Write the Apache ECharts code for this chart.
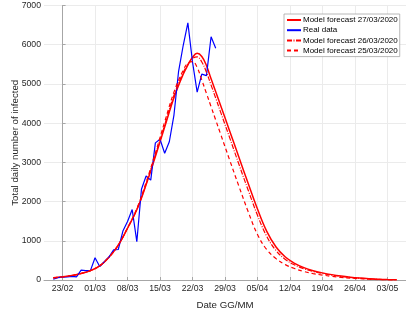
<!DOCTYPE html>
<html>
<head>
<meta charset="utf-8">
<script src="https://cdn.jsdelivr.net/npm/echarts@6/dist/echarts.min.js"></script>
<style>
html,body{margin:0;padding:0;background:#fff;}
#chart{width:406px;height:311px;}
</style>
</head>
<body>
<div id="chart"></div>
<script>
// Day index: 0 = 23/02/2020
const tickDays = [0, 7, 14, 21, 28, 35, 42, 49, 56, 63, 70];
const tickLabels = ['23/02', '01/03', '08/03', '15/03', '22/03', '29/03', '05/04', '12/04', '19/04', '26/04', '03/05'];

// Real data (daily new infected), days -2 .. 33
const realDays = [-2, -1, 0, 1, 2, 3, 4, 5, 6, 7, 8, 9, 10, 11, 12, 13, 14, 15, 16, 17, 18, 19, 20, 21, 22, 23, 24, 25, 26, 27, 28, 29, 30, 31, 32, 33];
const realValues = [20, 59, 73, 77, 93, 78, 250, 238, 240, 566, 342, 466, 587, 769, 778, 1247, 1492, 1797, 977, 2313, 2651, 2547, 3497, 3590, 3233, 3526, 4207, 5322, 5986, 6557, 5560, 4789, 5249, 5210, 6203, 5909];

// Model curves sampled at these days
const modelDays = [-2, 0, 2, 4, 6, 8, 10, 12, 14, 16, 18, 20, 22, 24, 26, 27, 28, 29, 30, 31, 32, 33, 34, 36, 38, 40, 42, 44, 46, 48, 50, 52, 54, 56, 58, 60, 62, 64, 66, 68, 70, 72];
const model2703 = [55, 80, 115, 165, 240, 360, 580, 890, 1320, 1790, 2430, 3150, 3900, 4650, 5250, 5480, 5680, 5780, 5700, 5470, 5130, 4800, 4470, 3800, 3130, 2460, 1810, 1240, 840, 585, 425, 315, 238, 182, 137, 101, 73, 51, 34, 21, 11, 4];
const model2603 = [55, 80, 115, 165, 240, 360, 580, 890, 1320, 1800, 2450, 3190, 3950, 4710, 5290, 5500, 5650, 5690, 5560, 5300, 4970, 4640, 4300, 3630, 2950, 2290, 1650, 1110, 750, 525, 385, 288, 217, 166, 124, 90, 64, 44, 29, 17, 8, 3];
const model2503 = [55, 80, 115, 165, 240, 360, 580, 890, 1330, 1820, 2490, 3240, 4030, 4790, 5350, 5530, 5570, 5420, 5100, 4760, 4420, 4080, 3740, 3060, 2390, 1740, 1160, 775, 545, 392, 292, 217, 164, 126, 93, 68, 48, 33, 21, 12, 6, 2];

const zip = (xs, ys) => xs.map((x, i) => [x, ys[i]]);
const RED = '#ff0000';
const BLUE = '#0000ff';
const FONT = 'Liberation Sans, Arial, sans-serif';

const chart = echarts.init(document.getElementById('chart'), null, {renderer: 'canvas'});
chart.setOption({
  animation: false,
  backgroundColor: '#ffffff',
  grid: {left: 44, right: 0, top: 5.5, bottom: 31, containLabel: false, outerBoundsMode: 'none'},
  xAxis: {
    type: 'value',
    min: -4,
    max: 74,
    name: 'Date GG/MM',
    nameLocation: 'middle',
    nameGap: 20,
    nameTextStyle: {fontFamily: FONT, fontSize: 9.7, color: '#262626'},
    axisLine: {show: true, lineStyle: {color: '#a6a6a6', width: 1}},
    axisTick: {show: true, inside: true, length: 3, customValues: tickDays, lineStyle: {color: '#a6a6a6'}},
    axisLabel: {
      customValues: tickDays,
      fontFamily: FONT, fontSize: 8.7, color: '#262626', margin: 4,
      formatter: v => { const i = tickDays.indexOf(v); return i >= 0 ? tickLabels[i] : ''; }
    },
    splitLine: {show: true, lineStyle: {color: '#ebebeb', width: 1}}
  },
  yAxis: {
    type: 'value',
    min: 0,
    max: 7000,
    interval: 1000,
    name: 'Total daily number of infected',
    nameLocation: 'middle',
    nameGap: 24,
    nameMoveOverlap: false,
    nameTextStyle: {fontFamily: FONT, fontSize: 9.7, color: '#262626'},
    axisLine: {show: true, lineStyle: {color: '#a6a6a6', width: 1}},
    axisTick: {show: true, inside: true, length: 3, lineStyle: {color: '#a6a6a6'}},
    axisLabel: {fontFamily: FONT, fontSize: 8.7, color: '#262626', margin: 3, formatter: v => String(v)},
    splitLine: {show: true, lineStyle: {color: '#ebebeb', width: 1}}
  },
  legend: {
    orient: 'vertical',
    left: 284,
    top: 14,
    padding: [2, 2, 2, 2],
    itemWidth: 14,
    itemHeight: 8,
    itemGap: 2.2,
    backgroundColor: '#ffffff',
    borderColor: '#a6a6a6',
    borderWidth: 0.8,
    itemStyle: {opacity: 0},
    textStyle: {fontFamily: FONT, fontSize: 8, color: '#000000', padding: [0, 0, 0, -3]},
    data: ['Model forecast 27/03/2020', 'Real data', 'Model forecast 26/03/2020', 'Model forecast 25/03/2020']
  },
  series: [
    {
      name: 'Model forecast 27/03/2020', type: 'line', smooth: 0.4, symbol: 'none',
      data: zip(modelDays, model2703),
      lineStyle: {color: RED, width: 1.5}, itemStyle: {color: RED}
    },
    {
      name: 'Real data', type: 'line', symbol: 'none',
      data: zip(realDays, realValues),
      lineStyle: {color: BLUE, width: 1.2}, itemStyle: {color: BLUE}
    },
    {
      name: 'Model forecast 26/03/2020', type: 'line', smooth: 0.4, symbol: 'none',
      data: zip(modelDays, model2603),
      lineStyle: {color: RED, width: 1.2, type: [5, 1.5, 1, 1.5]}, itemStyle: {color: RED}
    },
    {
      name: 'Model forecast 25/03/2020', type: 'line', smooth: 0.4, symbol: 'none',
      data: zip(modelDays, model2503),
      lineStyle: {color: RED, width: 1.2, type: [4, 3]}, itemStyle: {color: RED}
    }
  ]
});
</script>
</body>
</html>
